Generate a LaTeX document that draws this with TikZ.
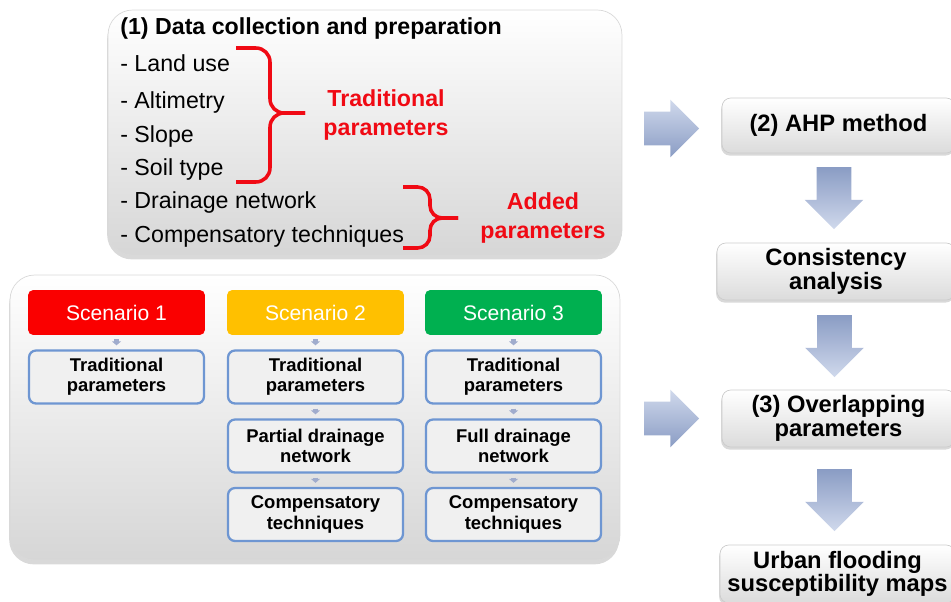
\documentclass[tikz,border=0pt]{standalone}
\usepackage{fontspec}
\setmainfont{Liberation Sans}
\usetikzlibrary{shapes.arrows,shadows,arrows.meta,calc}

\definecolor{bracered}{RGB}{240,10,20}
\definecolor{scenred}{RGB}{250,0,0}
\definecolor{scenorange}{RGB}{255,192,0}
\definecolor{scengreen}{RGB}{0,176,80}
\definecolor{boxblue}{RGB}{110,150,210}
\definecolor{boxgrey}{RGB}{240,240,240}
\definecolor{linkgrey}{RGB}{160,172,205}
\definecolor{arrowlight}{RGB}{208,217,236}
\definecolor{arrowdark}{RGB}{138,156,196}

\tikzset{
  panel/.style={draw=gray!30, rounded corners=14pt, top color=white, bottom color=gray!32,
    drop shadow={opacity=0.3, shadow xshift=-0.5pt, shadow yshift=-2.5pt}},
  item/.style={anchor=base west, inner sep=0pt, font=\fontsize{13.2}{15}\selectfont},
  redlabel/.style={text=bracered, align=center, inner sep=0pt, font=\bfseries\fontsize{13.2}{17}\selectfont},
  brace/.style={draw=bracered, line width=2pt, rounded corners=8pt},
  scenario/.style={fill=#1, rounded corners=3pt, minimum width=3.54cm, minimum height=0.9cm,
    inner sep=0pt, text=white, font=\fontsize{12}{13}\selectfont},
  param/.style={draw=boxblue, line width=1.3pt, fill=boxgrey, rounded corners=4pt,
    minimum width=3.5cm, minimum height=1.06cm, inner sep=0pt, align=center,
    font=\bfseries\fontsize{10.5}{11.5}\selectfont},
  link/.style={draw=linkgrey, line width=2.3pt, -{Triangle[length=2.2pt,width=5pt]},
    shorten <=2.3pt, shorten >=2.3pt},
  stepbox/.style={draw=gray!40, rounded corners=5pt, top color=white, bottom color=gray!28,
    minimum width=4.66cm, minimum height=1.1cm, inner sep=0pt, align=center,
    font=\bfseries\fontsize{13.5}{13.5}\selectfont,
    drop shadow={opacity=0.3, shadow xshift=-0.5pt, shadow yshift=-1.5pt}},
  bigarrow/.style={single arrow, single arrow head extend=0.24cm, minimum height=1.1cm,
    inner xsep=0pt, inner ysep=0.33cm, draw=none, anchor=tip,
    top color=arrowlight, bottom color=arrowdark},
  downarrow/.style={bigarrow, rotate=-90, minimum height=1.24cm, inner ysep=0.34cm,
    top color=arrowdark, bottom color=arrowlight},
}

\begin{document}
\begin{tikzpicture}[x=0.02cm, y=-0.02cm]
  \useasboundingbox (0,0) rectangle (951,602);
  \clip (0,0) rectangle (951,602);

  % (1) data panel
  \node[panel, minimum width=10.28cm, minimum height=4.9cm] (data) at (365,132.5) {};
  \node[item, font=\bfseries\fontsize{13.2}{15}\selectfont] (title) at (120,34) {(1) Data collection and preparation};
  \node[item] (l1) at (120,71) {- Land use};
  \node[item] (l2) at (120,108) {- Altimetry};
  \node[item] (l3) at (120,142) {- Slope};
  \node[item] (l4) at (120,175) {- Soil type};
  \node[item] (l5) at (120,208) {- Drainage network};
  \node[item] (l6) at (120,242) {- Compensatory techniques};

  % braces
  \draw[brace] (236,48) -| (270,113) -- (305,113);
  \draw[brace] (236,182) -| (270,113) -- (305,113);
  \draw[brace, rounded corners=7pt] (403,187) -| (430,218) -- (458,218);
  \draw[brace, rounded corners=7pt] (403,248) -| (430,218) -- (458,218);
  \node[redlabel] (trad) at (386,115) {Traditional\\parameters};
  \node[redlabel] (added) at (543,218) {Added\\parameters};

  % scenarios panel
  \node[panel, minimum width=12.2cm, minimum height=5.7cm] (scen) at (315,417.5) {};

  \node[scenario=scenred] (s1) at (116.5,312.5) {Scenario 1};
  \node[scenario=scenorange] (s2) at (315.5,312.5) {Scenario 2};
  \node[scenario=scengreen] (s3) at (513.5,312.5) {Scenario 3};

  \node[param] (t1) at (116.5,377) {Traditional\\parameters};
  \node[param] (t2) at (315.5,377) {Traditional\\parameters};
  \node[param] (t3) at (513.5,377) {Traditional\\parameters};
  \node[param] (p2) at (315.5,446) {Partial drainage\\network};
  \node[param] (p3) at (513.5,446) {Full drainage\\network};
  \node[param] (c2) at (315.5,514.5) {Compensatory\\techniques};
  \node[param] (c3) at (513.5,514.5) {Compensatory\\techniques};

  \draw[link] (s1) -- (t1);
  \draw[link] (s2) -- (t2);
  \draw[link] (s3) -- (t3);
  \draw[link] (t2) -- (p2);
  \draw[link] (t3) -- (p3);
  \draw[link] (p2) -- (c2);
  \draw[link] (p3) -- (c3);

  % right column
  \node[stepbox] (ahp) at (838.5,125.5) {(2) AHP method};
  \node[stepbox, minimum width=4.76cm, minimum height=1.14cm] (cons) at (836,271.5) {Consistency\\analysis};
  \node[stepbox, minimum height=1.14cm] (over) at (838.5,418.5) {(3) Overlapping\\parameters};
  \node[stepbox, minimum width=4.7cm, minimum height=1.16cm] (urban) at (837.5,574) {Urban flooding\\susceptibility maps};

  % block arrows, placed by their tips
  \node[bigarrow] (a1) at ($(ahp.west) + (-22,3)$) {};
  \node[bigarrow] (a2) at ($(over.west) + (-22,0)$) {};
  \node[downarrow] (d1) at ($(cons.north) + (-2,-13)$) {};
  \node[downarrow] (d2) at ($(over.north) + (-4,-12)$) {};
  \node[downarrow] (d3) at ($(urban.north) + (-3,-13)$) {};
\end{tikzpicture}
\end{document}
